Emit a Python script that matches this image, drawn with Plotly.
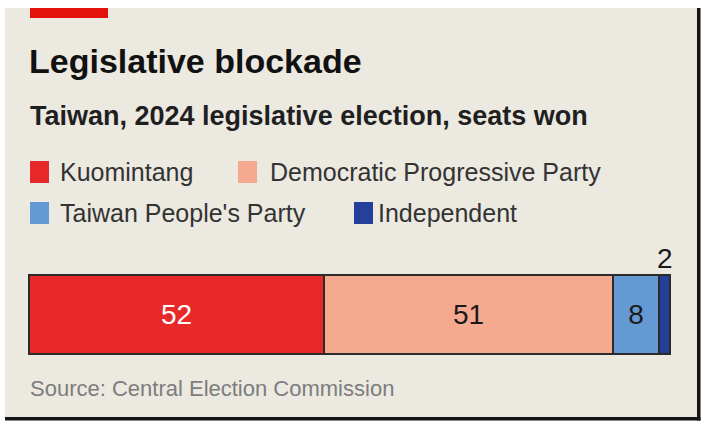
import plotly.graph_objects as go

W, H = 705, 431

parties = ["Kuomintang", "Democratic Progressive Party", "Taiwan People's Party", "Independent"]
seats = [52, 51, 8, 2]
colors = ["#e8292a", "#f5a98e", "#6499d4", "#24409a"]
label_colors = ["#ffffff", "#1a1a1a", "#1a1a1a", "#1a1a1a"]

title = "Legislative blockade"
subtitle = "Taiwan, 2024 legislative election, seats won"
source = "Source: Central Election Commission"

FONT = "Liberation Sans, Arial, sans-serif"


def px(x):
    return x / W


def py(y):
    return 1 - y / H


fig = go.Figure()
total = sum(seats)
for i, (p, s, c, lc) in enumerate(zip(parties, seats, colors, label_colors)):
    fig.add_trace(go.Bar(
        y=[0], x=[s], orientation="h", name=p,
        marker=dict(color=c, line=dict(color="#2b2b2b", width=1.8)),
        text=[str(s)] if s >= 5 else [""],
        textposition="inside", insidetextanchor="middle",
        textfont=dict(color=lc, size=28, family=FONT),
        width=1, showlegend=False, hoverinfo="skip",
    ))

# small segment label above bar
cum = sum(seats[:-1])
fig.add_annotation(x=cum + seats[-1] / 2, y=0.5, xref="x", yref="y",
                   text=str(seats[-1]), showarrow=False, yanchor="bottom", yshift=0,
                   font=dict(size=28, color="#1a1a1a", family=FONT))

shapes = []
# panel
shapes.append(dict(type="rect", xref="paper", yref="paper", x0=px(5), x1=px(700), y0=py(420), y1=py(8),
                   fillcolor="#ebe9e0", line=dict(width=0), layer="below"))
# right and bottom dark border
shapes.append(dict(type="rect", xref="paper", yref="paper", x0=px(697), x1=px(700.5), y0=py(420.5), y1=py(8),
                   fillcolor="#151515", line=dict(width=0), layer="below"))
shapes.append(dict(type="rect", xref="paper", yref="paper", x0=px(5), x1=px(700.5), y0=py(420.5), y1=py(417),
                   fillcolor="#151515", line=dict(width=0), layer="below"))
# red tag
shapes.append(dict(type="rect", xref="paper", yref="paper", x0=px(30), x1=px(108), y0=py(18), y1=py(8),
                   fillcolor="#e3120b", line=dict(width=0)))

# legend
leg_pos = [(30, 172, 60), (238, 172, 270), (30, 213, 60), (354, 213, 378)]
annotations = []
for (sx, cy, tx), p, c in zip(leg_pos, parties, colors):
    shapes.append(dict(type="rect", xref="paper", yref="paper", x0=px(sx), x1=px(sx + 19),
                       y0=py(cy + 11), y1=py(cy - 11), fillcolor=c, line=dict(width=0)))
    annotations.append(dict(x=px(tx - 2), y=py(cy), xref="paper", yref="paper", text=p, showarrow=False,
                            xanchor="left", yanchor="middle",
                            font=dict(size=25, color="#333333", family=FONT)))

annotations.append(dict(x=px(27), y=py(61), xref="paper", yref="paper", text="<b>" + title + "</b>",
                        showarrow=False, xanchor="left", yanchor="middle",
                        font=dict(size=34, color="#111111", family=FONT)))
annotations.append(dict(x=px(28), y=py(116), xref="paper", yref="paper", text="<b>" + subtitle + "</b>",
                        showarrow=False, xanchor="left", yanchor="middle",
                        font=dict(size=27, color="#1f1f1f", family=FONT)))
annotations.append(dict(x=px(28), y=py(388), xref="paper", yref="paper", text=source,
                        showarrow=False, xanchor="left", yanchor="middle",
                        font=dict(size=22, color="#7d7d7d", family=FONT)))

for a in annotations:
    fig.add_annotation(**a)

# bar occupies pixel rows 276..355 (79 px); pad the axis so outlines are not clipped
bar_top, bar_bot, pad = 276, 355, 4
half = 0.5 * (bar_bot - bar_top + 2 * pad) / (bar_bot - bar_top)
pad_x = 3
xr = pad_x * total / (671 - 30)

fig.update_layout(
    width=W, height=H, margin=dict(l=0, r=0, t=0, b=0),
    paper_bgcolor="#ffffff", plot_bgcolor="rgba(0,0,0,0)",
    barmode="stack", bargap=0,
    xaxis=dict(domain=[px(30 - pad_x), px(671 + pad_x)], range=[-xr, total + xr], visible=False, fixedrange=True),
    yaxis=dict(domain=[py(bar_bot + pad), py(bar_top - pad)], range=[-half, half], visible=False, fixedrange=True),
    shapes=shapes, showlegend=False,
)

fig.write_html("out.html", config={"displayModeBar": False},
               post_script="document.body.style.margin='0px';document.body.style.overflow='hidden';")
